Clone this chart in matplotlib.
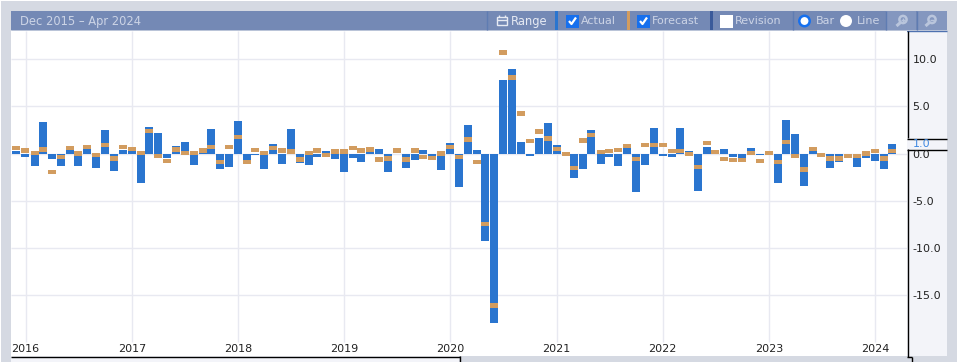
import matplotlib
matplotlib.use('Agg')
import matplotlib.pyplot as plt
import matplotlib.dates as mdates
from matplotlib.patches import Rectangle, Circle
import pandas as pd

months = pd.date_range('2015-12-01', '2024-03-01', freq='MS')

actual = [0.3, -0.35, -1.3, 3.35, -0.55, -1.3, 0.4, -1.3, 0.5, -1.5, 2.5, -1.85,
          0.4, 0.3, -3.1, 2.8, 2.2, -0.45, 0.8, 1.25, -1.2, 0.1, 2.6, -1.6,
          -1.4, 3.45, -0.75, -0.2, -1.65, 1.0, -1.1, 2.6, -1.0, -1.2, -0.35, 0.3,
          -0.55, -1.95, -0.45, -0.85, 0.7, 0.5, -1.95, -0.1, -1.55, -0.7, 0.4, -0.3,
          -1.75, 1.1, -3.55, 3.0, 0.4, -9.25, -17.9, 7.75, 8.9, 1.25, -0.3, 1.6,
          3.2, 0.9, 0.0, -2.6, -1.65, 2.45, -1.15, -0.4, -1.35, 0.6, -4.1, -1.25,
          2.75, -0.3, -0.4, 2.7, 0.25, -4.0, 0.7, 0.1, 0.5, -0.4, -0.45, 0.6,
          -0.2, 0.0, -3.1, 3.55, 2.05, -3.45, 0.3, -0.05, -1.5, -0.85, -0.1, -1.4,
          -0.45, -0.75, -1.6, 1.0]
forecast = [0.6, 0.3, 0.05, 0.4, -1.95, -0.35, 0.6, 0.0, 0.7, -0.15, 0.9, -0.55,
            0.7, 0.5, 0.05, 2.4, -0.25, -0.8, 0.4, 0.05, 0.05, 0.3, 0.7, -0.9,
            0.7, 1.75, -0.9, 0.35, 0.05, 0.6, 0.3, 0.2, -0.65, 0.05, 0.3, -0.15,
            0.2, 0.2, 0.6, 0.3, 0.4, -0.65, -0.55, 0.3, -0.65, 0.3, -0.35, -0.45,
            0.0, 0.7, -0.35, 1.5, -0.9, -7.45, -16.1, 10.7, 8.05, 4.25, 1.3, 2.35,
            1.6, 0.45, -0.05, -1.55, 1.4, 1.95, 0.15, 0.25, 0.35, 0.8, -0.6, 0.9,
            0.9, 0.9, 0.25, 0.25, -0.05, -1.45, 1.1, 0.15, -0.6, -0.7, -0.7, 0.05,
            -0.8, 0.05, -0.9, 1.2, -0.25, -1.7, 0.5, -0.15, -0.55, -0.55, -0.25, -0.25,
            0.0, 0.25, -0.55, 0.25]
year_ticks = pd.date_range('2016-01-01', '2024-01-01', freq='YS')
year_labels = [str(d.year) for d in year_ticks]
y_ticks = [10, 5, 0, -5, -10, -15]

W, H = 959, 362
BLUE = '#2a75cf'
ORANGE = '#d29c5f'
GRID = '#e8e9f1'
FRAME = '#d5d9e2'
PANEL = '#f3f4f9'
HEAD = '#7489b5'
HEAD_LIGHT = '#8497bf'
TXT = '#ccd4e6'

plt.rcParams['font.family'] = ['DejaVu Sans']
fig = plt.figure(figsize=(W / 100, H / 100), dpi=100, facecolor='white')

#%% chrome, in pixel coordinates
bg = fig.add_axes([0, 0, 1, 1], zorder=0)
bg.set_xlim(0, W)
bg.set_ylim(H, 0)
bg.axis('off')


def box(x0, y0, x1, y1, color, **kw):
    bg.add_patch(Rectangle((x0, y0), x1 - x0, y1 - y0, fc=color, ec='none', **kw))


def line(xs, ys, color='black', lw=1.0):
    bg.plot(xs, ys, color=color, lw=lw, solid_capstyle='butt')


def label(x, s, color=TXT, size=8.0):
    bg.text(x, 21, s, color=color, fontsize=size, va='center', ha='left')


def check(x, checked=True):
    if checked:
        box(x, 14.5, x + 13, 27.5, '#1670ee')
        line([x + 3, x + 5.5, x + 10], [21, 24, 17.5], 'white', 1.6)
    else:
        box(x, 14.5, x + 13, 27.5, 'white')


box(1, 1, 957, H, FRAME)
box(11, 11, 947, 30, HEAD)
line([11, 947], [30.5, 30.5], '#4e71b0', 1.0)
box(907, 31, 947, 356, PANEL)
box(11, 356, 459, H, PANEL)

# header
bg.text(20, 21, 'Dec 2015 – Apr 2024', color=TXT, fontsize=8.3, va='center', ha='left')
line([486.5, 486.5], [11, 30], '#5f7cb2')
bg.add_patch(Rectangle((497, 17), 10, 8, fc='none', ec='#e6eaf3', lw=1))
line([497, 507], [20, 20], '#e6eaf3', 1)
line([499, 499], [15, 17], '#e6eaf3', 1)
line([505, 505], [15, 17], '#e6eaf3', 1)
label(511, 'Range', '#e6eaf3', 8.3)
box(555, 11, 558, 30, BLUE)
check(566)
label(581, 'Actual')
box(627, 11, 630, 30, ORANGE)
check(637)
label(652, 'Forecast')
box(710, 11, 713, 30, '#3a5a9a')
check(720, False)
label(735, 'Revision')
line([792.5, 792.5], [11, 30], '#5f7cb2')
bg.add_patch(Circle((804.5, 21), 5.2, fc='white', ec='#1670ee', lw=1.8))
label(816, 'Bar')
bg.add_patch(Circle((846, 21), 6, fc='white', ec='none'))
label(857, 'Line')
line([885.5, 885.5], [11, 30], '#5f7cb2')
box(886, 11, 916, 30, HEAD_LIGHT)
box(917, 11, 947, 30, HEAD_LIGHT)
line([916.5, 916.5], [11, 30], '#5f7cb2')
for cx, plus in [(903, True), (932, False)]:
    bg.add_patch(Circle((cx, 19.5), 3.6, fc='none', ec='#b9c5dc', lw=1.8))
    line([cx - 2.5, cx - 6.5], [22.5, 26], '#b9c5dc', 2.2)
    line([cx - 2, cx + 2], [19.5, 19.5], '#b9c5dc', 1)
    if plus:
        line([cx, cx], [17.5, 21.5], '#b9c5dc', 1)

# axis frame with the notch for the last value
line([907.5, 907.5], [31, 138])
line([907.5, 907.5], [149, 357])
line([907, 947], [138.5, 138.5])
line([907, 947], [149.5, 149.5])
line([11, 459.5], [356.5, 356.5])
line([459.5, 459.5], [356, H])
line([907, 912], [357, 357])
line([911.5, 911.5], [357, H])

#%% chart
PX_PER_DAY = 0.2907
PX_PER_UNIT = 9.45
ZERO_Y = 153.5
x_left = mdates.date2num(year_ticks[0]) - (25.5 - 11) / PX_PER_DAY
x_right = mdates.date2num(year_ticks[0]) + (907 - 25.5) / PX_PER_DAY

ax = fig.add_axes([11 / W, 1 - 356 / H, 896 / W, 325 / H], zorder=1, facecolor='white')
ax.set_xlim(x_left, x_right)
ax.set_ylim((ZERO_Y - 356) / PX_PER_UNIT, (ZERO_Y - 31) / PX_PER_UNIT)
for s in ax.spines.values():
    s.set_visible(False)

x = mdates.date2num(months)
bar_w = 8 / PX_PER_DAY
fc_h = 4.5 / PX_PER_UNIT

ax.hlines(y_ticks, x_left, x_right, color=GRID, lw=1, zorder=1)
ax.vlines(mdates.date2num(year_ticks), (ZERO_Y - 342) / PX_PER_UNIT, (ZERO_Y - 31) / PX_PER_UNIT,
          color=GRID, lw=1, zorder=1)
ax.bar(x, actual, width=bar_w, color=BLUE, zorder=2)
ax.bar(x, [fc_h] * len(forecast), bottom=[f - fc_h / 2 for f in forecast], width=bar_w,
       color=ORANGE, zorder=3)

ax.set_xticks(mdates.date2num(year_ticks))
ax.set_xticklabels(year_labels)
ax.tick_params(axis='x', length=0, pad=-8.6, labelsize=8, labelcolor='#222222')
ax.yaxis.tick_right()
ax.set_yticks(y_ticks)
ax.set_yticklabels(['%.1f' % v for v in y_ticks])
ax.tick_params(axis='y', length=0, pad=4, labelsize=8, labelcolor='#222222')

ax.annotate('%.1f' % actual[-1], xy=(1, actual[-1]), xycoords=ax.get_yaxis_transform(),
            xytext=(4, 0), textcoords='offset points', annotation_clip=False,
            color='#3f88e0', fontsize=8, va='center', ha='left')
bg.text(21, 44, '© Fair Economy', color='#bdbdbd', fontsize=8, va='center', ha='left')

fig.savefig('out.png', dpi=100)
